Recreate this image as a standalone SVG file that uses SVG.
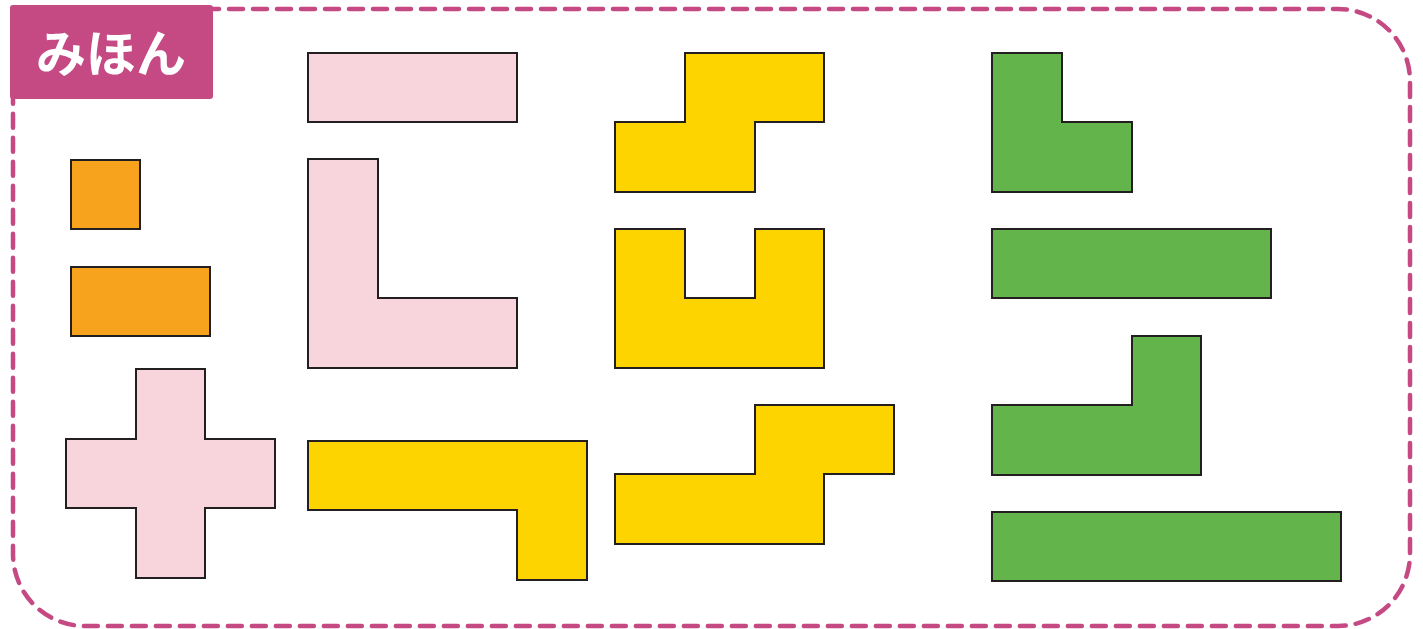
<svg xmlns="http://www.w3.org/2000/svg" width="1423" height="629" viewBox="0 0 1423 629">
<style>
.p{stroke:#231f20;stroke-width:2;stroke-linejoin:miter}
.o{fill:#f8a31e}.k{fill:#f8d5dc}.y{fill:#fdd400}.g{fill:#63b44a}
.frame{fill:none;stroke:#c54a84;stroke-width:4.5;stroke-dasharray:14 10;stroke-linecap:round}
.lbl{font-family:"Noto Sans CJK JP","Noto Sans CJK SC",sans-serif;font-weight:700;font-size:50px;fill:#fff}
</style>
<rect class="frame" x="13" y="9" width="1397" height="617" rx="72" ry="72"/>
<g id="label">
<rect x="10" y="5" width="203" height="94" rx="3" fill="#c54a84"/>
<text class="lbl" x="111" y="72" text-anchor="middle">みほん</text>
</g>
<g id="orange-square"><rect class="p o" x="71" y="160" width="69" height="69"/></g>
<g id="orange-rect"><rect class="p o" x="71" y="267" width="139" height="69"/></g>
<g id="pink-cross"><polygon class="p k" points="136,369 205,369 205,439 275,439 275,508 205,508 205,578 136,578 136,508 66,508 66,439 136,439"/></g>
<g id="pink-bar"><rect class="p k" x="308" y="53" width="209" height="69"/></g>
<g id="pink-L"><polygon class="p k" points="308,159 378,159 378,298 517,298 517,368 308,368"/></g>
<g id="yellow-hook"><polygon class="p y" points="308,441 587,441 587,580 517,580 517,510 308,510"/></g>
<g id="yellow-S"><polygon class="p y" points="685,53 824,53 824,122 755,122 755,192 615,192 615,122 685,122"/></g>
<g id="yellow-U"><polygon class="p y" points="615,229 685,229 685,298 755,298 755,229 824,229 824,368 615,368"/></g>
<g id="yellow-Z"><polygon class="p y" points="755,405 894,405 894,474 824,474 824,544 615,544 615,474 755,474"/></g>
<g id="green-L"><polygon class="p g" points="992,53 1062,53 1062,122 1132,122 1132,192 992,192"/></g>
<g id="green-bar"><rect class="p g" x="992" y="229" width="279" height="69"/></g>
<g id="green-J"><polygon class="p g" points="1132,336 1201,336 1201,475 992,475 992,405 1132,405"/></g>
<g id="green-long"><rect class="p g" x="992" y="512" width="349" height="69"/></g>
<g id="connectors"/>
</svg>
